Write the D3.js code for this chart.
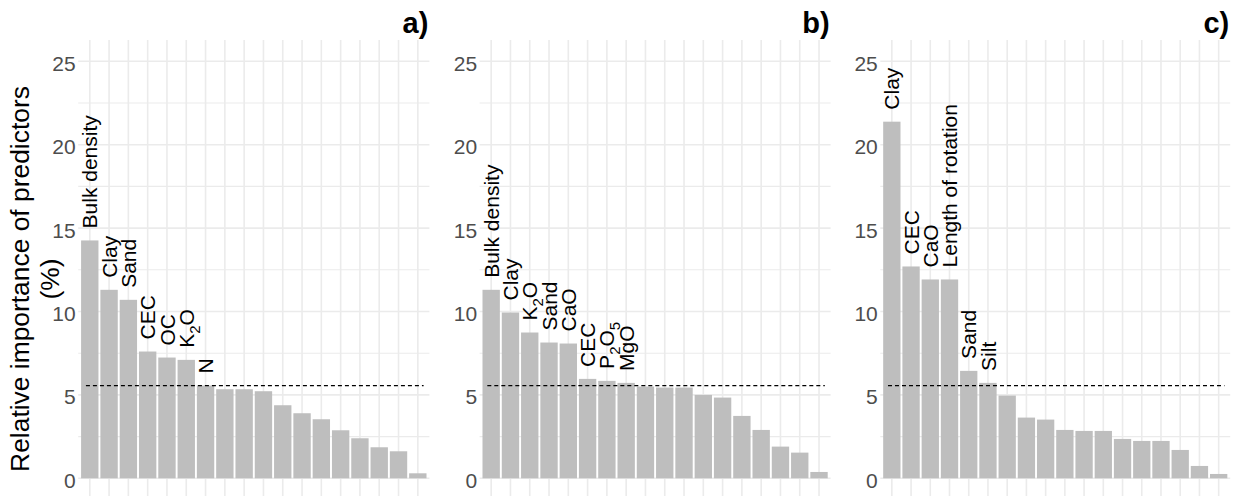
<!DOCTYPE html>
<html><head><meta charset="utf-8">
<script src="https://cdn.jsdelivr.net/npm/d3@7"></script>
<style>body{margin:0;background:#fff}</style>
</head><body>
<svg id="chart" width="1235" height="496"></svg>
<script>
// ---- data ----
const panelTitles = ["a)", "b)", "c)"];
const valuesA = [14.26, 11.3, 10.7, 7.6, 7.24, 7.1, 5.56, 5.34, 5.34, 5.22, 4.38, 3.9, 3.54, 2.88, 2.4, 1.86, 1.62, 0.3];
const valuesB = [11.3, 9.94, 8.74, 8.14, 8.08, 5.96, 5.84, 5.72, 5.5, 5.44, 5.44, 5.0, 4.84, 3.74, 2.9, 1.9, 1.54, 0.38];
const valuesC = [21.38, 12.7, 11.92, 11.92, 6.44, 5.72, 4.96, 3.64, 3.52, 2.9, 2.84, 2.84, 2.36, 2.24, 2.24, 1.7, 0.74, 0.26];
const labelsA = ["Bulk density", "Clay", "Sand", "CEC", "OC", "K_2O", "N"];
const labelsB = ["Bulk density", "Clay", "K_2O", "Sand", "CaO", "CEC", "P_2O_5", "MgO"];
const labelsC = ["Clay", "CEC", "CaO", "Length of rotation", "Sand", "Silt"];
const yTicks = [0, 5, 10, 15, 20, 25];
const yMinor = [2.5, 7.5, 12.5, 17.5, 22.5];
const threshold = 100 / 18;
const yTitle = ["Relative importance of predictors", "(%)"];

// ---- layout ----
const FONT = "'Liberation Sans', Arial, sans-serif";
const panels = [
  {title: panelTitles[0], values: valuesA, labels: labelsA, left: 78.2, right: 429.4},
  {title: panelTitles[1], values: valuesB, labels: labelsB, left: 479.6, right: 830.6},
  {title: panelTitles[2], values: valuesC, labels: labelsC, left: 880.3, right: 1230.2}
];
const panelTop = 40, panelBottom = 496;
const y = d3.scaleLinear().domain([0, 25]).range([478.3, 61.3]);

const svg = d3.select("#chart");
svg.append("rect").attr("width", 1235).attr("height", 496).attr("fill", "#fff");

function addLabel(g, str, x0, y0) {
  const t = g.append("text")
    .attr("transform", `translate(${x0},${y0}) rotate(-90)`)
    .attr("dy", "0.36em")
    .attr("font-family", FONT).attr("font-size", 21).attr("fill", "#000");
  const parts = str.split(/(_\d)/).filter(s => s.length);
  let sub = false;
  parts.forEach(p => {
    if (p.startsWith("_")) {
      t.append("tspan").text(p.slice(1)).attr("font-size", 15).attr("dy", 6);
      sub = true;
    } else {
      const ts = t.append("tspan").text(p);
      if (sub) { ts.attr("dy", -6); sub = false; }
    }
  });
}

panels.forEach(P => {
  const g = svg.append("g");
  const idx = d3.range(P.values.length);
  const x = d3.scalePoint().domain(idx).range([P.left, P.right]).padding(0.6);
  const step = x.step();
  const bw = step * 0.9;

  // minor grid
  g.selectAll(".ymin").data(yMinor).join("line")
    .attr("x1", P.left).attr("x2", P.right)
    .attr("y1", d => y(d)).attr("y2", d => y(d))
    .attr("stroke", "#ebebeb").attr("stroke-width", 1.1);
  // major grid
  g.selectAll(".ymaj").data(yTicks).join("line")
    .attr("x1", P.left).attr("x2", P.right)
    .attr("y1", d => y(d)).attr("y2", d => y(d))
    .attr("stroke", "#ebebeb").attr("stroke-width", 1.6);
  g.selectAll(".xmaj").data(idx).join("line")
    .attr("x1", d => x(d)).attr("x2", d => x(d))
    .attr("y1", panelTop).attr("y2", panelBottom)
    .attr("stroke", "#ebebeb").attr("stroke-width", 1.6);

  // y tick labels
  g.selectAll(".ytl").data(yTicks).join("text")
    .attr("x", P.left - 2.5).attr("y", d => y(d) + 9.5)
    .attr("text-anchor", "end")
    .attr("font-family", FONT).attr("font-size", 21).attr("fill", "#4d4d4d")
    .text(d => d);

  // bars
  g.selectAll(".bar").data(P.values).join("rect")
    .attr("x", (d, i) => x(i) - bw / 2).attr("width", bw)
    .attr("y", d => y(d)).attr("height", d => y(0) - y(d))
    .attr("fill", "#bebebe");

  // threshold line
  g.append("line")
    .attr("x1", x(0) - 0.2 * step).attr("x2", x(idx.length - 1) + 0.3 * step)
    .attr("y1", y(threshold)).attr("y2", y(threshold))
    .attr("stroke", "#000").attr("stroke-width", 1.1).attr("stroke-dasharray", "4,3");

  // bar labels
  P.labels.forEach((lab, i) => addLabel(g, lab, x(i), y(P.values[i]) - 12));

  // panel title
  g.append("text").attr("x", P.right - 1).attr("y", 33)
    .attr("text-anchor", "end")
    .attr("font-family", FONT).attr("font-size", 29).attr("font-weight", "bold").attr("fill", "#000")
    .text(P.title);
});

// y axis title
const yt = svg.append("text")
  .attr("transform", "translate(29,279) rotate(-90)")
  .attr("text-anchor", "middle")
  .attr("font-family", FONT).attr("font-size", 26.4).attr("fill", "#000");
yt.append("tspan").attr("x", 0).attr("y", 0).text(yTitle[0]);
yt.append("tspan").attr("x", 0).attr("y", 30).text(yTitle[1]);
</script>
</body></html>
